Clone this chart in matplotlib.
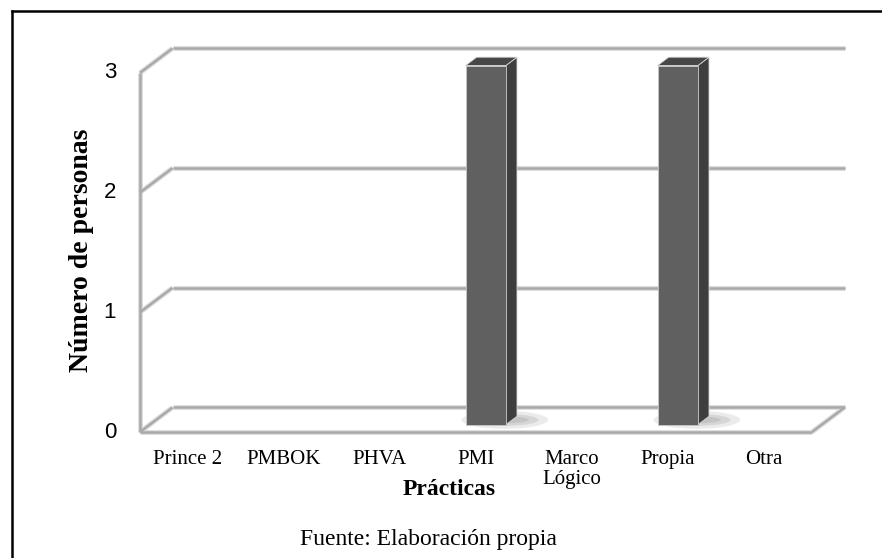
import matplotlib
matplotlib.use("Agg")
import matplotlib.pyplot as plt
from matplotlib.patches import Polygon, Ellipse
from matplotlib.lines import Line2D

# datos del grafico
practicas = ["Prince 2", "PMBOK", "PHVA", "PMI", "Marco\nLógico", "Propia", "Otra"]
personas = [0, 0, 0, 3, 0, 3, 0]
y_ticks = [0, 1, 2, 3]

# profundidad del efecto 3D (en unidades de datos)
DX = 0.339
DY = 0.205
bar_w = 0.42
d0, d1 = 0.30, 0.64

grid_core = "#a9a9a9"
grid_halo = "#dedede"
front_col = "#606060"
side_col = "#3e3e3e"
top_col = "#474747"

fig = plt.figure(figsize=(8.82, 5.58), dpi=100)
ax = fig.add_axes([0, 0, 1, 1])
ax.set_xlim(-1.958, 7.229)
ax.set_ylim(-1.0526, 3.609)
ax.axis("off")

n = len(practicas)
x_left, x_right = -0.5, n - 0.5


def soft_line(xs, ys):
    ax.plot(xs, ys, color=grid_halo, lw=3.6, solid_capstyle="butt", zorder=1)
    ax.plot(xs, ys, color=grid_core, lw=1.8, solid_capstyle="butt", zorder=2)


# pared del fondo y lateral
for v in y_ticks:
    soft_line([x_left + DX, x_right + DX], [v + DY, v + DY])
    soft_line([x_left, x_left + DX], [v, v + DY])
soft_line([x_left, x_left], [0, max(y_ticks)])

# piso
soft_line([x_left, x_right], [0, 0])
soft_line([x_right, x_right + DX], [0, DY])

# barras
for i, v in enumerate(personas):
    if v == 0:
        continue
    x0 = i - bar_w / 2
    x1 = i + bar_w / 2
    # sombra
    for w, h, a in [(0.9, 0.15, 0.25), (0.7, 0.10, 0.35), (0.5, 0.06, 0.45)]:
        ax.add_patch(Ellipse((i + 0.3, d0 * DY + 0.04), w, h,
                             color="#b0b0b0", alpha=a, lw=0, zorder=3))
    front = [(x0 + d0 * DX, d0 * DY), (x1 + d0 * DX, d0 * DY),
             (x1 + d0 * DX, v + d0 * DY), (x0 + d0 * DX, v + d0 * DY)]
    side = [(x1 + d0 * DX, d0 * DY), (x1 + d1 * DX, d1 * DY),
            (x1 + d1 * DX, v + d1 * DY), (x1 + d0 * DX, v + d0 * DY)]
    top = [(x0 + d0 * DX, v + d0 * DY), (x1 + d0 * DX, v + d0 * DY),
           (x1 + d1 * DX, v + d1 * DY), (x0 + d1 * DX, v + d1 * DY)]
    ax.add_patch(Polygon(side, closed=True, fc=side_col, ec="#d5d5d5", lw=0.6, zorder=4))
    ax.add_patch(Polygon(top, closed=True, fc=top_col, ec="#d5d5d5", lw=0.6, zorder=4))
    ax.add_patch(Polygon(front, closed=True, fc=front_col, ec="#c8c8c8", lw=0.6, zorder=5))

# etiquetas del eje y
for v in y_ticks:
    ax.text(-0.8125, v, str(v), ha="center", va="center", fontsize=16,
            family="Liberation Sans", color="black")

# etiquetas de categorias
for i, lab in enumerate(practicas):
    ax.text(i, -0.15, lab, ha="center", va="top", fontsize=15,
            family="Liberation Serif", linespacing=1.05)

ax.text(2.72, -0.48, "Prácticas", ha="center", va="center", fontsize=17,
        family="Liberation Serif", fontweight="bold")
ax.text(-1.104, 1.52, "Número de personas", ha="center", va="center", fontsize=20,
        family="Liberation Serif", fontweight="bold", rotation=90)
ax.text(2.5, -0.902, "Fuente: Elaboración propia", ha="center", va="center",
        fontsize=17, family="Liberation Serif")

# marco
fig.add_artist(Line2D([12 / 882, 12 / 882], [0, 1 - 11 / 558], color="black", lw=1.8,
                      transform=fig.transFigure))
fig.add_artist(Line2D([12 / 882, 1], [1 - 11 / 558, 1 - 11 / 558], color="black", lw=1.8,
                      transform=fig.transFigure))

fig.savefig("out.png", dpi=100)
